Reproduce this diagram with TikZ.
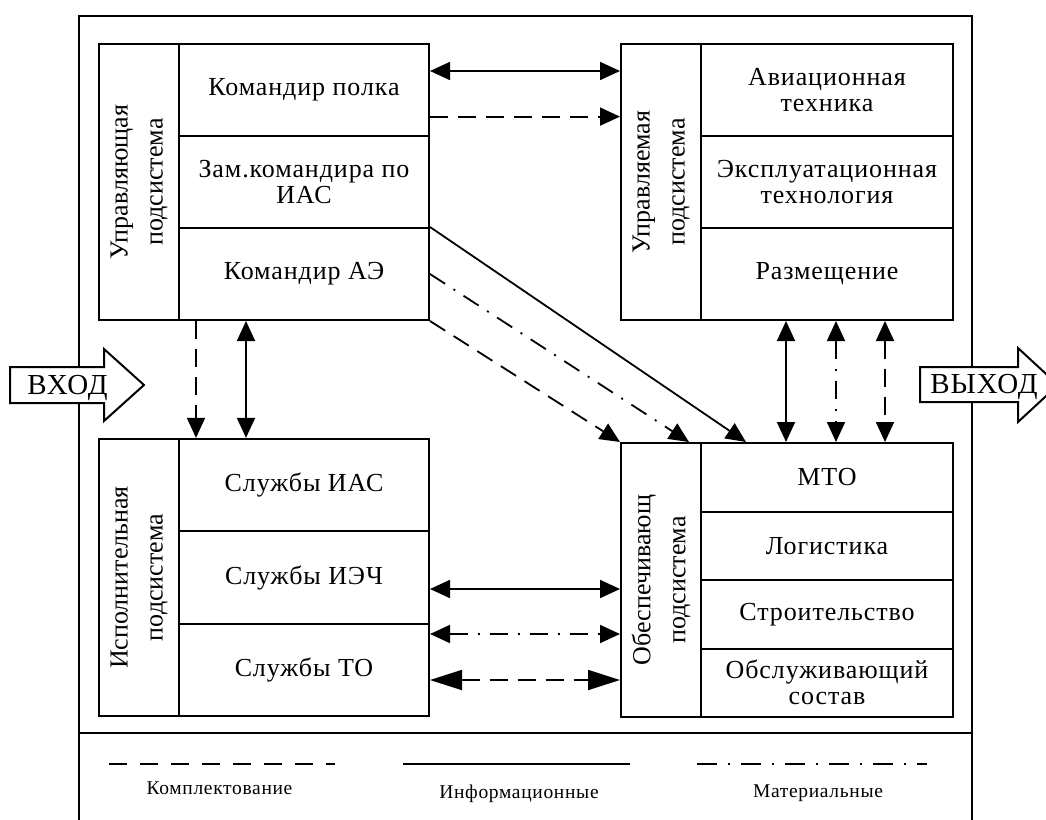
\documentclass[tikz,border=0pt]{standalone}
\usepackage{fontspec}
\setmainfont{Liberation Serif}
\newfontfamily\spacedserif[LetterSpace=3.5]{Liberation Serif}
\usetikzlibrary{arrows.meta,calc}
\begin{document}
\begin{tikzpicture}[x=1pt,y=-1pt,
  cell/.style={draw, line width=2pt, inner sep=0pt, align=center, font=\spacedserif\fontsize{26}{26}\selectfont},
  vlab/.style={rotate=90, align=center, inner sep=0pt, font=\fontsize{26}{35}\selectfont},
  conn/.style={line width=1.8pt},
  dsh/.style={conn, dash pattern=on 18pt off 10pt},
  ddot/.style={conn, dash pattern=on 18pt off 10pt on 2pt off 10pt},
  onearr/.style={-{Triangle[length=20pt,width=18pt]}},
  twoarr/.style={{Triangle[length=20pt,width=18pt]}-{Triangle[length=20pt,width=18pt]}},
  twobig/.style={{Triangle[length=32pt,width=20pt]}-{Triangle[length=32pt,width=20pt]}},
  bigarrow/.style={draw, line width=2pt, fill=white},
  bigtext/.style={font=\spacedserif\fontsize{29}{30}\selectfont, inner sep=0pt, anchor=base},
  legtext/.style={font=\spacedserif\fontsize{19.5}{20}\selectfont, inner sep=0pt, anchor=base},
  legline/.style={line width=2.5pt}
]
\useasboundingbox (0,0) rectangle (1046,819);
\clip (0,0) rectangle (1046,819);

% outer frame and legend separator
\draw[line width=2pt] (79,16) rectangle (972,840);
\draw[line width=2pt] (79,733) -- (972,733);

% top-left block
\node[cell, minimum width=80pt, minimum height=276pt] (ul) at (139,182) {};
\node[vlab] (ult) at (ul.center) {Управляющая\\подсистема};
\node[cell, minimum width=250pt, minimum height=92pt] (a1) at (304,90) {Командир полка};
\node[cell, minimum width=250pt, minimum height=92pt] (a2) at (304,182) {Зам.командира по\\ИАС};
\node[cell, minimum width=250pt, minimum height=92pt] (a3) at (304,274) {Командир АЭ};

% top-right block
\node[cell, minimum width=80pt, minimum height=276pt] (ur) at (661,182) {};
\node[vlab] (urt) at (ur.center) {Управляемая\\подсистема};
\node[cell, minimum width=252pt, minimum height=92pt] (r1) at (827,90) {Авиационная\\техника};
\node[cell, minimum width=252pt, minimum height=92pt] (r2) at (827,182) {Эксплуатационная\\технология};
\node[cell, minimum width=252pt, minimum height=92pt] (r3) at (827,274) {Размещение};

% bottom-left block
\node[cell, minimum width=80pt, minimum height=277pt] (bl) at (139,577.5) {};
\node[vlab] (blt) at (bl.center) {Исполнительная\\подсистема};
\node[cell, minimum width=250pt, minimum height=92.3pt] (b1) at (304,485) {Службы ИАС};
\node[cell, minimum width=250pt, minimum height=92.3pt] (b2) at (304,577.5) {Службы ИЭЧ};
\node[cell, minimum width=250pt, minimum height=92.3pt] (b3) at (304,670) {Службы ТО};

% bottom-right block
\node[cell, minimum width=80pt, minimum height=274pt] (br) at (661,580) {};
\node[vlab] (brt) at (br.center) {Обеспечивающ\\подсистема};
\node[cell, minimum width=252pt, minimum height=68.5pt] (m1) at (827,477.25) {МТО};
\node[cell, minimum width=252pt, minimum height=68.5pt] (m2) at (827,545.75) {Логистика};
\node[cell, minimum width=252pt, minimum height=68.5pt] (m3) at (827,614.25) {Строительство};
\node[cell, minimum width=252pt, minimum height=68.5pt] (m4) at (827,682.75) {Обслуживающий\\состав};

% connectors top
\draw[conn,twoarr] ([yshift=19pt]a1.east) -- ([yshift=19pt]a1.east -| ur.west);
\draw[dsh,onearr] ([yshift=-26.6pt]a1.east) -- ([yshift=-26.6pt]a1.east -| ur.west);
% diagonals
\draw[conn,onearr] (a3.north east) -- ($(m1.north west)+(46,0)$);
\draw[ddot,onearr] (a3.east) -- ($(br.north east)+(-13,0)$);
\draw[dsh,onearr] (a3.south east) -- (br.north west);
% left verticals
\draw[dsh,onearr] ($(a3.south west)+(18,0)$) -- ($(b1.north west)+(18,0)$);
\draw[conn,twoarr] ($(a3.south west)+(68,0)$) -- ($(b1.north west)+(68,0)$);
% right verticals
\draw[conn,twoarr] ($(r3.south west)+(86,0)$) -- ($(m1.north west)+(86,0)$);
\draw[ddot,twoarr] ($(r3.south west)+(136,0)$) -- ($(m1.north west)+(136,0)$);
\draw[dsh,twoarr] ($(r3.south west)+(185,0)$) -- ($(m1.north west)+(185,0)$);
% bottom horizontals
\draw[conn,twoarr] ([yshift=-11.5pt]b2.east) -- ([yshift=-11.5pt]b2.east -| br.west);
\draw[ddot,twoarr] ([yshift=36pt]b3.east) -- ([yshift=36pt]b3.east -| br.west);
\draw[dsh,twobig] ([yshift=-10pt]b3.east) -- ([yshift=-10pt]b3.east -| br.west);

% input / output block arrows
\draw[bigarrow] (10,367) -- (104,367) -- (104,349) -- (144,385) -- (104,421) -- (104,403) -- (10,403) -- cycle;
\node[bigtext] (vin) at (67.5,394) {ВХОД};
\draw[bigarrow] (920,367) -- (1018,367) -- (1018,348) -- (1058,385) -- (1018,422) -- (1018,402) -- (920,402) -- cycle;
\node[bigtext] (vout) at (984,393) {ВЫХОД};

% legend
\draw[legline, dash pattern=on 18pt off 13pt] (109,764) -- (335,764);
\draw[legline] (403,764) -- (630,764);
\draw[legline, dash pattern=on 20pt off 11pt on 2pt off 11pt] (697,764) -- (927,764);
\node[legtext] (lg1) at (219.5,794) {Комплектование};
\node[legtext] (lg2) at (519,798) {Информационные};
\node[legtext] (lg3) at (818,797) {Материальные};
\end{tikzpicture}
\end{document}
